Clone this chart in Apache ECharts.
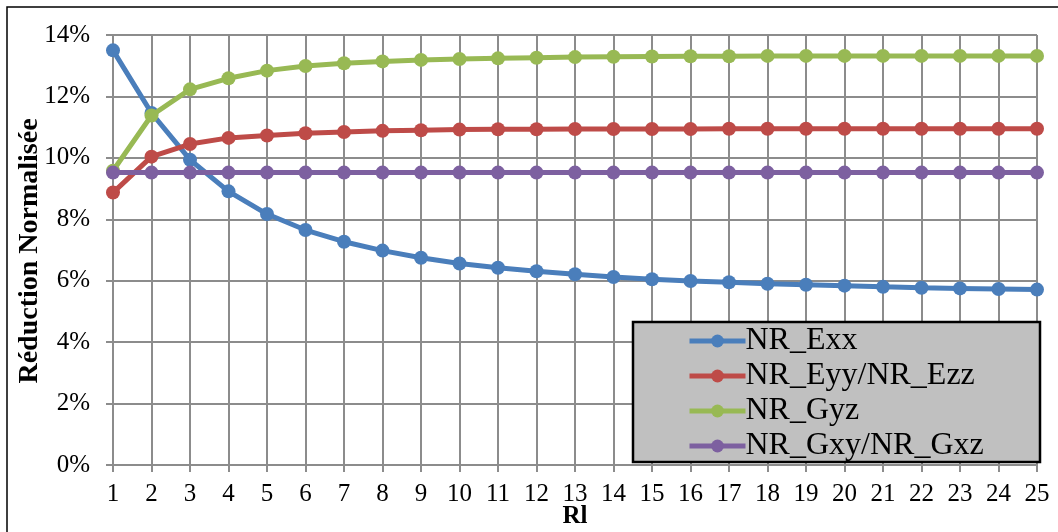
<!DOCTYPE html>
<html><head><meta charset="utf-8">
<script src="https://cdn.jsdelivr.net/npm/echarts@6/dist/echarts.min.js"></script>
<style>html,body{margin:0;padding:0;background:#fff}#c{width:1058px;height:532px}</style>
</head><body><div id="c"></div>
<script>
const categories = ['1','2','3','4','5','6','7','8','9','10','11','12','13','14','15','16','17','18','19','20','21','22','23','24','25'];
const nrExx = [13.50,11.46,9.94,8.91,8.17,7.65,7.27,6.98,6.75,6.56,6.42,6.31,6.21,6.12,6.05,5.99,5.95,5.90,5.87,5.84,5.80,5.77,5.75,5.73,5.71];
const nrEyy = [8.87,10.04,10.45,10.65,10.73,10.80,10.84,10.88,10.90,10.92,10.93,10.93,10.94,10.94,10.94,10.94,10.95,10.95,10.95,10.95,10.95,10.95,10.95,10.95,10.95];
const nrGyz = [9.58,11.38,12.23,12.59,12.84,12.99,13.08,13.14,13.19,13.22,13.24,13.26,13.28,13.29,13.30,13.31,13.31,13.32,13.32,13.32,13.32,13.32,13.32,13.32,13.32];
const nrGxy = [9.52,9.52,9.52,9.52,9.52,9.52,9.52,9.52,9.52,9.52,9.52,9.52,9.52,9.52,9.52,9.52,9.52,9.52,9.52,9.52,9.52,9.52,9.52,9.52,9.52];
const names = ['NR_Exx','NR_Eyy/NR_Ezz','NR_Gyz','NR_Gxy/NR_Gxz'];
const xTitle = 'Rl';
const yTitle = 'Réduction Normalisée';
const colors = ['#4a7ebb','#be4b48','#98b954','#7d60a0'];
const datasets = [nrExx, nrEyy, nrGyz, nrGxy];
const F = '"Liberation Serif", "Times New Roman", serif';
const chart = echarts.init(document.getElementById('c'));
chart.setOption({
  animation: false,
  textStyle: { fontFamily: F },
  grid: { left: 113, right: 21, top: 35, bottom: 67, containLabel: false, outerBoundsMode: 'none' },
  graphic: [
    { type: 'rect', z: 0, shape: { x: 7, y: 7, width: 1100, height: 600 }, style: { fill: 'none', stroke: '#000', lineWidth: 1.5 } },
    { type: 'rect', z: 5, shape: { x: 633, y: 322, width: 407, height: 140 }, style: { fill: '#c0c0c0', stroke: '#000', lineWidth: 2.5 } },
    { type: 'text', z: 6, x: 30, y: 251, rotation: Math.PI / 2,
      style: { text: yTitle, font: 'bold 28px ' + F, fill: '#000', align: 'center', verticalAlign: 'middle' } },
    { type: 'text', z: 6, x: 575, y: 517,
      style: { text: xTitle, font: 'bold 25px ' + F, fill: '#000', align: 'center', verticalAlign: 'middle' } }
  ],
  legend: {
    z: 6,
    orient: 'vertical',
    left: 687, top: 325,
    itemWidth: 56, itemHeight: 16, itemGap: 3,
    padding: 0,
    lineStyle: { width: 5 },
    textStyle: { fontFamily: F, fontSize: 32, lineHeight: 32, color: '#000', padding: [0,0,0,-5] },
    data: names
  },
  xAxis: {
    type: 'category', data: categories, boundaryGap: false,
    axisLine: { lineStyle: { color: '#8c8c8c', width: 2 } },
    axisTick: { show: true, alignWithLabel: true, length: 7, lineStyle: { color: '#8c8c8c', width: 2 } },
    axisLabel: { fontFamily: F, fontSize: 25, color: '#000', margin: 17 },
    splitLine: { show: true, lineStyle: { color: '#8c8c8c', width: 2 } }
  },
  yAxis: {
    type: 'value', min: 0, max: 14, interval: 2,
    axisLine: { show: true, lineStyle: { color: '#8c8c8c', width: 2 } },
    axisTick: { show: true, length: 7, lineStyle: { color: '#8c8c8c', width: 2 } },
    axisLabel: { fontFamily: F, fontSize: 25, color: '#000', margin: 23, formatter: v => v + '%' },
    splitLine: { show: true, lineStyle: { color: '#8c8c8c', width: 2 } }
  },
  series: datasets.map((d, i) => ({
    name: names[i], type: 'line', data: d,
    color: colors[i],
    symbol: 'circle', symbolSize: 14, showSymbol: true,
    lineStyle: { width: 5, color: colors[i] },
    itemStyle: { color: colors[i] },
    z: 2 + i
  }))
});
</script></body></html>
